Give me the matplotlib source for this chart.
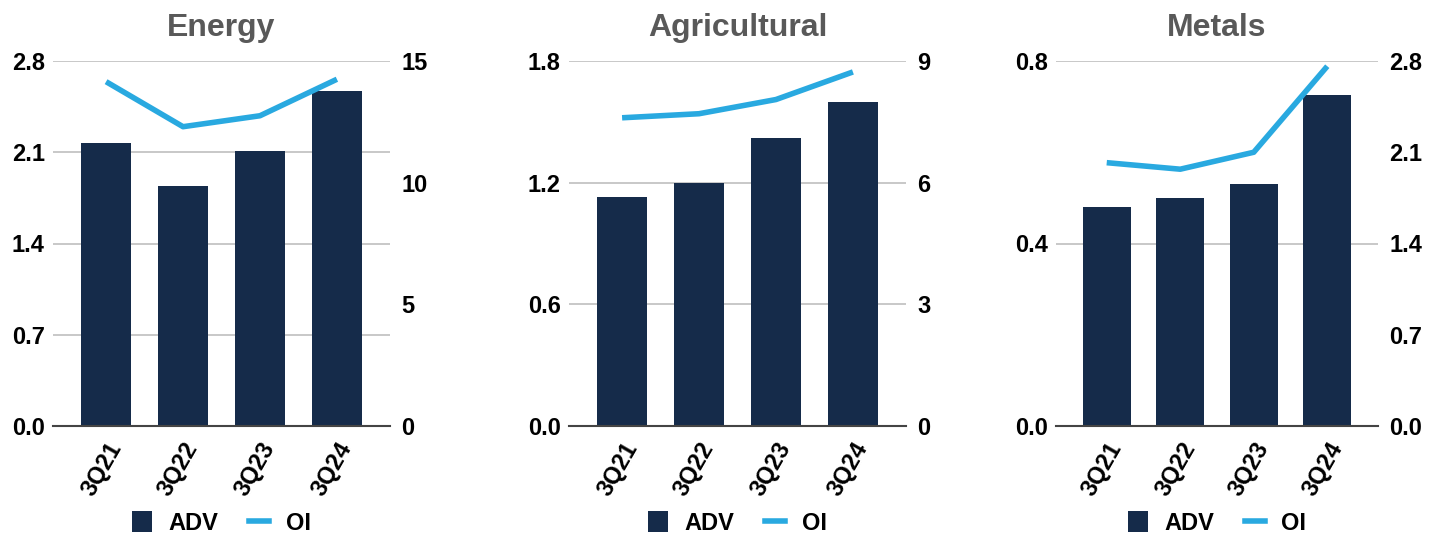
import numpy as np
import matplotlib
matplotlib.use('Agg')
import matplotlib.pyplot as plt
from matplotlib.patches import Patch
from matplotlib.lines import Line2D

plt.rcParams['font.family'] = ['Liberation Sans', 'DejaVu Sans']

quarters = ['3Q21', '3Q22', '3Q23', '3Q24']

energy_adv = [2.17, 1.84, 2.11, 2.57]
energy_oi = [14.15, 12.3, 12.75, 14.25]
agri_adv = [1.13, 1.2, 1.42, 1.6]
agri_oi = [7.6, 7.7, 8.05, 8.73]
metals_adv = [0.48, 0.5, 0.53, 0.725]
metals_oi = [2.02, 1.97, 2.1, 2.76]

NAVY = '#152b4a'
BLUE = '#29a9e0'
GRID = '#c4c4c4'
FS = 17

panels = [
    ('Energy', energy_adv, energy_oi, [0.0, 0.7, 1.4, 2.1, 2.8], '{:.1f}',
     [0, 5, 10, 15], '{:.0f}', [53, 390]),
    ('Agricultural', agri_adv, agri_oi, [0.0, 0.6, 1.2, 1.8], '{:.1f}',
     [0, 3, 6, 9], '{:.0f}', [569, 906]),
    ('Metals', metals_adv, metals_oi, [0.0, 0.4, 0.8], '{:.1f}',
     [0.0, 0.7, 1.4, 2.1, 2.8], '{:.1f}', [1056, 1378]),
]

W, H = 1436, 535
fig = plt.figure(figsize=(W / 100, H / 100), dpi=100)

x = np.arange(len(quarters))
for title, adv, oi, lt, lfmt, rt, rfmt, (x0, x1) in panels:
    ax = fig.add_axes([x0 / W, 109 / H, (x1 - x0) / W, 365 / H])
    ax.bar(x, adv, width=0.65, color=NAVY, zorder=2)
    ax.set_xlim(-0.69, 3.69)
    ax.set_ylim(lt[0], lt[-1])
    ax.set_yticks(lt)
    ax.set_yticklabels([lfmt.format(v) for v in lt])
    ax.grid(axis='y', color=GRID, linewidth=1.3, zorder=0)
    for s in ['top', 'right', 'left']:
        ax.spines[s].set_visible(False)
    ax.spines['bottom'].set_color('#444444')
    ax.spines['bottom'].set_linewidth(1.5)
    ax.spines['bottom'].set_zorder(3)
    ax.tick_params(axis='both', length=0, labelsize=FS)
    ax.tick_params(axis='y', pad=6)
    ax.set_xticks(x)
    ax.set_xticklabels(quarters, rotation=60, ha='right', rotation_mode='anchor',
                       fontsize=FS, fontweight='bold')
    ax.tick_params(axis='x', pad=9)
    for lbl in ax.get_yticklabels():
        lbl.set_fontweight('bold')
    ax.set_title(title, fontsize=23, fontweight='bold', color='#595959', pad=18)

    ax2 = ax.twinx()
    ax2.plot(x, oi, color=BLUE, linewidth=4, solid_capstyle='butt', zorder=3)
    ax2.set_ylim(rt[0], rt[-1])
    ax2.set_yticks(rt)
    ax2.set_yticklabels([rfmt.format(v) for v in rt])
    for s in ['top', 'right', 'left', 'bottom']:
        ax2.spines[s].set_visible(False)
    ax2.tick_params(axis='y', length=0, labelsize=FS, pad=8)
    for lbl in ax2.get_yticklabels():
        lbl.set_fontweight('bold')

    handles = [Patch(facecolor=NAVY, label='ADV'),
               Line2D([0], [0], color=BLUE, linewidth=4, label='OI')]
    fig.legend(handles=handles, loc='center', ncol=2, frameon=False,
               bbox_to_anchor=((x0 + x1) / 2 / W, 12 / H),
               prop={'size': FS, 'weight': 'bold'}, handlelength=0.85,
               handleheight=1.0, columnspacing=1.3, handletextpad=0.7)

fig.savefig('out.png', dpi=100)
